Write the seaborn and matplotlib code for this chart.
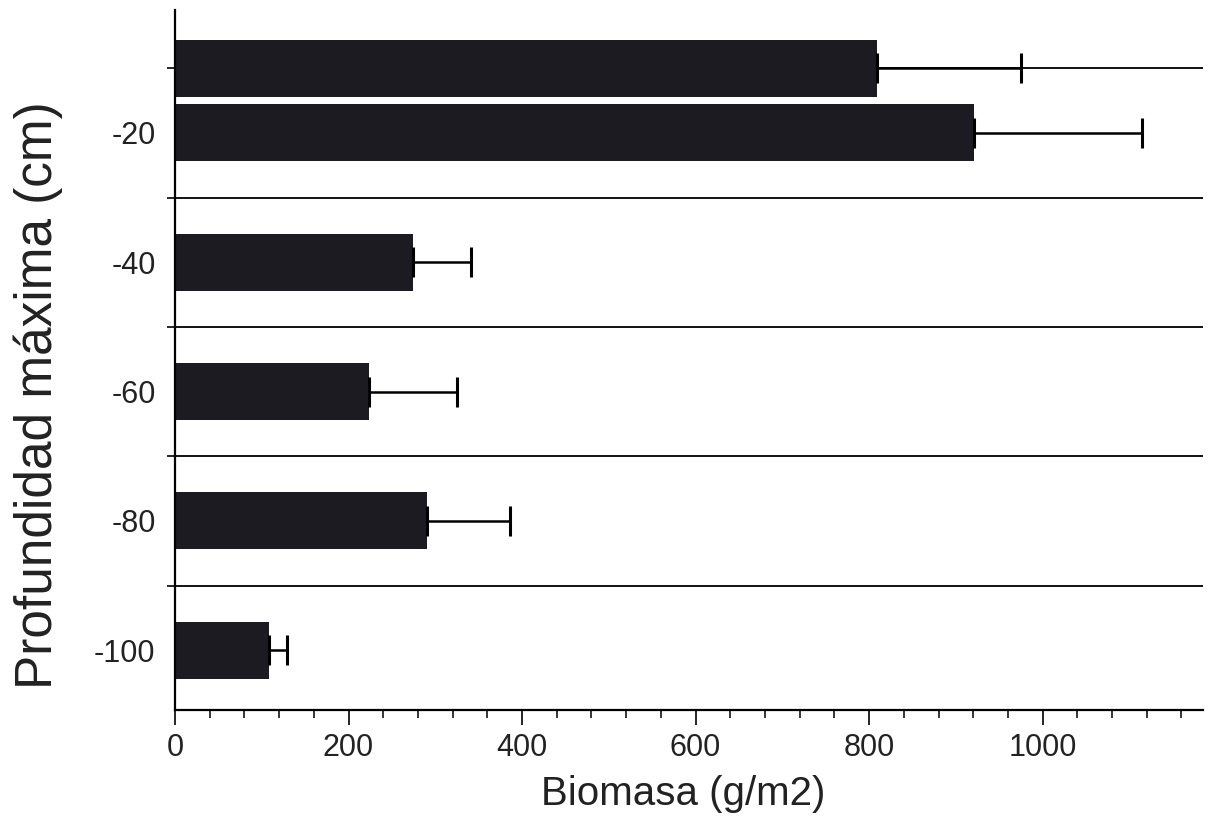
import numpy as np
import pandas as pd
import matplotlib
matplotlib.use("Agg")
import matplotlib.pyplot as plt
import seaborn as sns
from matplotlib.ticker import MultipleLocator

# depth classes (cm) and biomass
depth = [-10, -20, -40, -60, -80, -100]
biomasa = [809, 921, 274, 224, 290, 108]
error = [166, 194, 67, 101, 96, 21]

depth_labels = [-20, -40, -60, -80, -100]
grid_depths = [-10, -30, -50, -70, -90]
x_ticks = [0, 200, 400, 600, 800, 1000]

df = pd.DataFrame({"depth": depth, "biomasa": biomasa, "error": error})

sns.set_style("ticks")
plt.rcParams['font.family'] = ['Liberation Sans', 'DejaVu Sans']
plt.rcParams['hatch.linewidth'] = 0.6
plt.rcParams['hatch.color'] = '#34333d'

fig = plt.figure(figsize=(12.11, 8.35), dpi=100)
ax = fig.add_axes([0.1445, 0.150, 0.849, 0.838])

sns.barplot(data=df, x="biomasa", y="depth", orient="h", native_scale=True,
            width=0.88, color="#1c1b22", saturation=1, errorbar=None,
            edgecolor="#1c1b22", linewidth=0, hatch="++", ax=ax, zorder=2)

# one-sided error bars
ax.errorbar(df["biomasa"], df["depth"], xerr=[np.zeros(len(df)), df["error"]],
            fmt="none", ecolor="black", elinewidth=1.8, capsize=11, capthick=2.2, zorder=3)

ax.set_xlim(0, 1185)
ax.set_ylim(-109.2, -1.0)

ax.set_xticks(x_ticks)
ax.xaxis.set_minor_locator(MultipleLocator(40))
ax.set_yticks(depth_labels)
ax.set_yticklabels([str(d) for d in depth_labels])
ax.set_yticks(grid_depths, minor=True)

ax.tick_params(axis="x", which="major", length=10.5, width=1.4, labelsize=22, pad=6,
               labelcolor="#222")
ax.tick_params(axis="x", which="minor", length=5.5, width=1.3)
ax.tick_params(axis="y", which="major", length=0, labelsize=22, pad=14, labelcolor="#222")
ax.tick_params(axis="y", which="minor", length=6, width=1.4)

ax.yaxis.grid(True, which="minor", color="#111", lw=1.4)
ax.set_axisbelow(True)

sns.despine(ax=ax)
for s in ["left", "bottom"]:
    ax.spines[s].set_linewidth(1.6)
    ax.spines[s].set_color("black")

ax.set_xlabel("Biomasa (g/m2)", fontsize=29, color="#222")
ax.set_ylabel("Profundidad máxima (cm)", fontsize=37, color="#222")
ax.xaxis.label.set_va("center")
ax.yaxis.label.set_va("center")
ax.xaxis.set_label_coords(0.494, -0.121)
ax.yaxis.set_label_coords(-0.133, 0.45)

plt.savefig("out.png", dpi=100)
